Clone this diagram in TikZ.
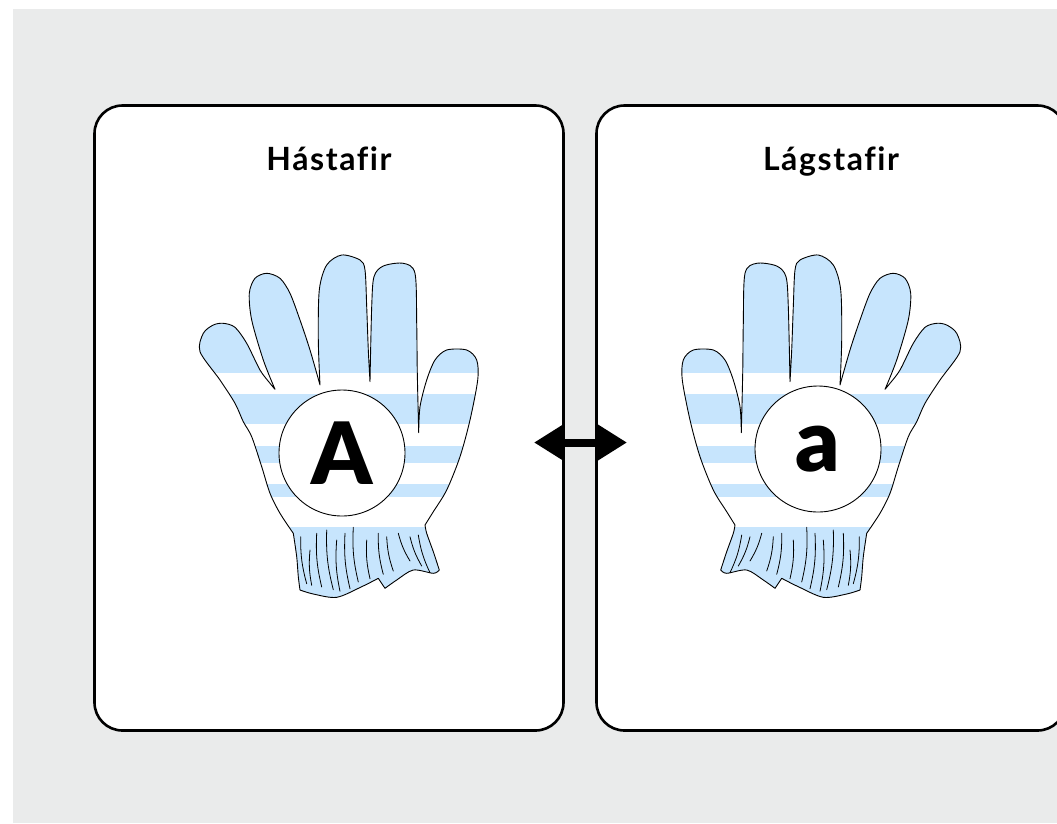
\documentclass[tikz,border=0pt]{standalone}
\usepackage{fontspec}
\setmainfont{Lato}[Ligatures=NoCommon]
\newfontfamily\titlefont{Lato}[Ligatures=NoCommon, LetterSpace=5, UprightFont=*-Bold]
\newfontfamily\heavyfont{Lato}[UprightFont=*-Black]
\usetikzlibrary{arrows.meta}
\definecolor{bggray}{HTML}{EAEBEB}
\definecolor{gloveblue}{HTML}{C7E5FD}

% outline of one glove, in picture pixels
\newcommand{\gloveoutline}{
  plot[smooth, tension=0.5] coordinates {(275,389.3) (263.3,360) (251.7,320) (249.3,293.3) (255,278.3) (266.7,273.3) (280,278.3) (290,293.3) (300,320) (310,350) (320,385)}
  -- plot[smooth, tension=0.5] coordinates {(320,385) (318.3,340) (319.3,290) (326.7,265) (341.7,255) (360,260) (365,270) (366.7,306.7) (368.3,350) (370,381.7)}
  -- plot[smooth, tension=0.5] coordinates {(370,381.7) (371.7,306.7) (374,276.7) (383.3,266) (403.3,263.3) (415,273.3) (416.7,323.3) (417.3,373.3) (418.7,432.7)}
  -- plot[smooth, tension=0.5] coordinates {(418.7,432.7) (420,406.7) (426.7,380) (435,360) (446.7,350) (466.7,350) (476.7,360) (477.7,380) (470,420) (460,456.7) (446.7,490) (433.3,511.7) (425,525)}
  -- plot[smooth, tension=0.5] coordinates {(425,525) (426.7,533.3) (433.3,551.7) (439.3,570)}
  -- plot[smooth, tension=0.5] coordinates {(439.3,570) (433.3,573.3) (413.3,570) (396.7,580) (385,588.3)}
  -- (378.3,578.3)
  -- plot[smooth, tension=0.5] coordinates {(378.3,578.3) (361.7,586.7) (336.7,597.3) (313.3,594) (300,590)}
  -- plot[smooth, tension=0.5] coordinates {(300,590) (298.3,576.7) (296.7,556.7) (293.3,533.3)}
  -- plot[smooth, tension=0.5] coordinates {(293.3,533.3) (280,513.3) (270,493.3) (261.7,466.7) (251.7,436.7) (243.3,421.7) (235,403.3) (220,380) (200,351.7) (203.3,333.3) (213.3,325) (223.3,323.3) (235,327.3) (246.7,343.3) (260,370) (270,383.3) (275,389.3)}
  -- cycle}

\newcommand{\drawglove}{
  \begin{scope}
    \clip \gloveoutline;
    \fill[gloveblue] (190,240) rectangle (490,610);
    \foreach \ya/\yb in {372.7/394, 424.3/446, 462.7/484, 497.3/527.3}
      \fill[white] (190,\ya) rectangle (490,\yb);
  \end{scope}
  \draw[line width=0.9pt, line join=round] \gloveoutline;
  % cuff wrinkles
  \foreach \xa/\ya/\xb/\yb in {300.7/536.7/306.7/583.7, 310/550/311.7/585.3, 316.7/533.3/321.7/587,
      326.7/530/333.3/589.7, 336.7/540/340/591.3, 345/533.3/350/588.7, 353.3/527.3/358.3/582,
      366.7/540/370/578.7, 378.3/533.3/383.3/574.3, 386.7/536.7/393.3/571, 398.3/533.3/410/561,
      410/536.7/421.7/566, 418.3/535/430/572.7}
    \draw[wrinkle] (\xa,\ya) to[bend right=8] (\xb,\yb);
}

\tikzset{
  card/.style={draw, line width=2.6pt, fill=white, rounded corners=28pt,
    minimum width=469pt, minimum height=625pt, inner sep=0pt},
  title/.style={font=\titlefont\fontsize{32}{35}\selectfont, anchor=base},
  letter/.style={circle, draw, line width=0.9pt, fill=white, minimum size=126pt,
    inner sep=0pt, font=\heavyfont\fontsize{86}{86}\selectfont},
  wrinkle/.style={line width=0.8pt, line cap=round},
  swap/.style={line width=8pt, {Triangle[length=30pt,width=35pt]}-{Triangle[length=30pt,width=35pt]}},
}

\begin{document}
\begin{tikzpicture}[x=1pt, y=-1pt]
  \useasboundingbox (0,0) rectangle (1057,823);
  \fill[bggray] (13,9) rectangle (1057,823);

  % cards
  \node[card] (upper) at (329,418) {};
  \node[card] (lower) at (831,418) {};

  % Hástafir
  \node[title] (uppertitle) at (329,170) {Hástafir};
  \drawglove
  \node[letter] (bigA) at (342,453) {A};

  % Lágstafir
  \node[title] (lowertitle) at (831,170) {Lágstafir};
  \begin{scope}[xshift=1160pt, xscale=-1]
    \drawglove
  \end{scope}
  \node[letter] (smalla) at (818,449) {a};

  % arrow
  \coordinate (arrL) at (534,442.5);
  \coordinate (arrR) at (627,442.5);
  \draw[swap] (arrL) -- (arrR);
\end{tikzpicture}
\end{document}
